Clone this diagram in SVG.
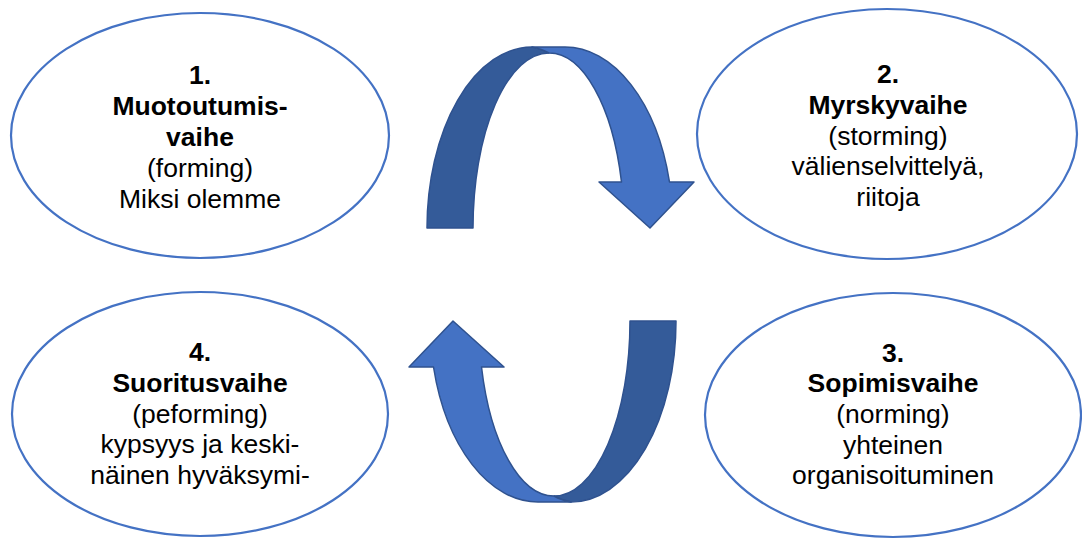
<svg xmlns="http://www.w3.org/2000/svg" xmlns:xlink="http://www.w3.org/1999/xlink" width="1082" height="539" viewBox="0 0 1082 539">
<style>
.node ellipse{fill:#fff;stroke:#4472C4;stroke-width:2.2}
.t{font-family:"Liberation Sans",Arial,sans-serif;font-size:26.5px;fill:#000;text-anchor:middle}
.b{font-weight:bold}
.dark{fill:#345B99;stroke:#2F528F;stroke-width:1.5;stroke-linejoin:round}
.light{fill:#4472C4;stroke:#2F528F;stroke-width:1.5;stroke-linejoin:round}
</style>
<defs>
<g id="curved">
<path class="dark" d="M427 228 A105 181 0 0 1 532 47 Q542 49 549 53 A76 175 0 0 0 473 228 Z"/>
<path class="light" d="M532 47 L565 47 A108 181 0 0 1 669.5 182 L694 182 L650 228 L599 182 L621.5 182 A75 175 0 0 0 549 53 Q542 49 532 47 Z"/>
</g>
</defs>
<rect width="1082" height="539" fill="#fff"/>
<g id="connectors">
<use xlink:href="#curved"/>
<use xlink:href="#curved" transform="rotate(180 551.5 274.5)"/>
</g>
<g id="node1" class="node">
<ellipse cx="200" cy="135.5" rx="189" ry="122.5"/>
<text class="t b" x="200" y="84">1.</text>
<text class="t b" x="200" y="115">Muotoutumis-</text>
<text class="t b" x="200" y="146">vaihe</text>
<text class="t" x="200" y="177">(forming)</text>
<text class="t" x="200" y="208">Miksi olemme</text>
</g>
<g id="node2" class="node">
<ellipse cx="887" cy="134" rx="190" ry="125"/>
<text class="t b" x="888" y="83">2.</text>
<text class="t b" x="888" y="114">Myrskyvaihe</text>
<text class="t" x="888" y="145">(storming)</text>
<text class="t" x="888" y="175">välienselvittelyä,</text>
<text class="t" x="888" y="206">riitoja</text>
</g>
<g id="node3" class="node">
<ellipse cx="893" cy="415" rx="188" ry="122"/>
<text class="t b" x="893" y="362">3.</text>
<text class="t b" x="893" y="392">Sopimisvaihe</text>
<text class="t" x="893" y="423">(norming)</text>
<text class="t" x="893" y="454">yhteinen</text>
<text class="t" x="893" y="484">organisoituminen</text>
</g>
<g id="node4" class="node">
<ellipse cx="200" cy="414" rx="188" ry="122"/>
<text class="t b" x="200" y="361">4.</text>
<text class="t b" x="200" y="392">Suoritusvaihe</text>
<text class="t" x="200" y="423">(peforming)</text>
<text class="t" x="200" y="453">kypsyys ja keski-</text>
<text class="t" x="200" y="484">näinen hyväksymi-</text>
</g>
</svg>
